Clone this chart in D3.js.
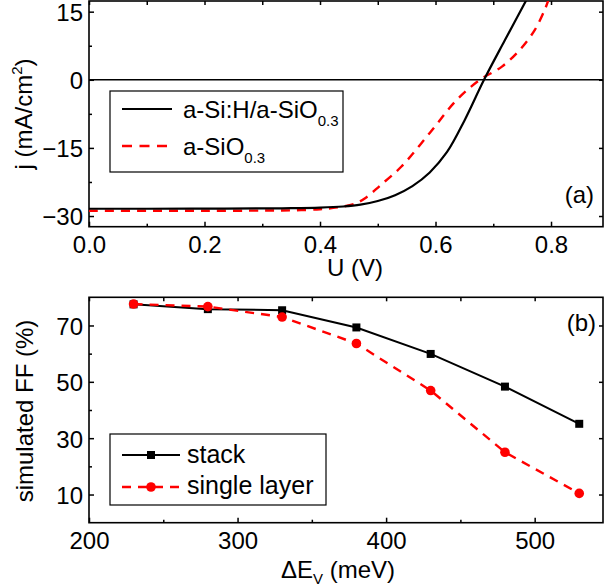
<!DOCTYPE html>
<html>
<head>
<meta charset="utf-8">
<script src="https://cdn.jsdelivr.net/npm/d3@7"></script>
<style>
  body { margin: 0; background: #fff; }
  svg { display: block; font-family: "Liberation Sans", Arial, sans-serif; }
  .tick text { font-size: 24px; fill: #000; }
  .domain { display: none; }
  .tick line { stroke: #000; stroke-width: 1.5; }
</style>
</head>
<body>
<div id="chart"></div>
<script>
// panel (a): j-U curves
var U_stack = [0, 0.1, 0.2, 0.3, 0.35, 0.4, 0.44, 0.47, 0.5, 0.53, 0.56, 0.59, 0.62, 0.65, 0.684, 0.72, 0.76];
var j_stack = [-28.4, -28.4, -28.37, -28.33, -28.28, -28.15, -27.9, -27.5, -26.7, -25.4, -23.4, -20.4, -15.9, -9.0, 0, 8.7, 18.2];
var U_single = [0, 0.1, 0.2, 0.3, 0.35, 0.4, 0.43, 0.46, 0.48, 0.504, 0.541, 0.59, 0.637, 0.677, 0.715, 0.746, 0.772, 0.789, 0.795];
var j_single = [-28.85, -28.85, -28.85, -28.8, -28.75, -28.5, -28.1, -27.3, -25.9, -23.3, -19.1, -11.7, -4.4, 0, 2.9, 6.6, 11.0, 15.4, 17.4];

// panel (b): simulated FF vs valence band offset
var dEv = [230, 280, 330, 380, 430, 480, 530];
var ff_stack = [77.5, 75.8, 75.4, 69.3, 59.9, 48.3, 35.1];
var ff_single = [77.6, 76.7, 73.0, 63.6, 46.9, 25.0, 10.4];

var xTicksA = [0, 0.2, 0.4, 0.6, 0.8], xMinorA = [0.1, 0.3, 0.5, 0.7];
var yTicksA = [-30, -15, 0, 15], yMinorA = [-22.5, -7.5, 7.5];
var xTicksB = [200, 300, 400, 500], xMinorB = [250, 350, 450];
var yTicksB = [10, 30, 50, 70], yMinorB = [20, 40, 60];

var W = 605, H = 588;
var L = 89, R = 603;
var svg = d3.select('#chart').append('svg').attr('width', W).attr('height', H);

var xa = d3.scaleLinear().domain([0, 0.89]).range([L, R]);
var ya = d3.scaleLinear().domain([-32.35, 17.35]).range([226.7, 1]);
var xb = d3.scaleLinear().domain([200, 546]).range([L, R]);
var yb = d3.scaleLinear().domain([0, 80]).range([522.7, 297.3]);

function frame(x, y, fmtX, fmtY, xt, xm, yt, ym) {
  var g = svg.append('g');
  var y0 = y.range()[0], y1 = y.range()[1];
  g.append('g').attr('transform', 'translate(0,' + y0 + ')')
    .call(d3.axisBottom(x).tickValues(xt).tickSize(-5).tickPadding(9).tickFormat(fmtX));
  g.append('g').attr('transform', 'translate(0,' + y0 + ')')
    .call(d3.axisBottom(x).tickValues(xm).tickSize(-3).tickFormat(''));
  g.append('g').attr('transform', 'translate(0,' + y1 + ')')
    .call(d3.axisTop(x).tickValues(xt.concat(xm)).tickSize(-4).tickFormat(''));
  g.append('g').attr('transform', 'translate(' + L + ',0)')
    .call(d3.axisLeft(y).tickValues(yt).tickSize(-5).tickPadding(6).tickFormat(fmtY))
    .selectAll('text').attr('dy', '0.37em');
  g.append('g').attr('transform', 'translate(' + L + ',0)')
    .call(d3.axisLeft(y).tickValues(ym).tickSize(-3).tickFormat(''));
  g.append('g').attr('transform', 'translate(' + R + ',0)')
    .call(d3.axisRight(y).tickValues(yt).tickSize(-4).tickFormat(''));
  g.append('rect').attr('x', L).attr('y', y1).attr('width', R - L).attr('height', y0 - y1)
    .attr('fill', 'none').attr('stroke', '#000').attr('stroke-width', 1.6);
}

frame(xa, ya, d3.format('.1f'), d3.format('d'), xTicksA, xMinorA, yTicksA, yMinorA);
frame(xb, yb, d3.format('d'), d3.format('d'), xTicksB, xMinorB, yTicksB, yMinorB);

// zero line
svg.append('line').attr('x1', L).attr('x2', R).attr('y1', ya(0)).attr('y2', ya(0))
  .attr('stroke', '#000').attr('stroke-width', 1.5);

svg.append('clipPath').attr('id', 'clipA').append('rect')
  .attr('x', L).attr('y', 1).attr('width', R - L).attr('height', 225.7);

var lineA = d3.line().curve(d3.curveCatmullRom.alpha(0.5));
svg.append('path')
  .attr('d', lineA(U_single.map(function(u, i){ return [xa(u), ya(j_single[i])]; })))
  .attr('clip-path', 'url(#clipA)')
  .attr('fill', 'none').attr('stroke', '#ff0000').attr('stroke-width', 2.4).attr('stroke-dasharray', '9,7');
svg.append('path')
  .attr('d', lineA(U_stack.map(function(u, i){ return [xa(u), ya(j_stack[i])]; })))
  .attr('clip-path', 'url(#clipA)')
  .attr('fill', 'none').attr('stroke', '#000').attr('stroke-width', 2.2);

// panel (b) lines + markers
var lineB = d3.line();
svg.append('path')
  .attr('d', lineB(dEv.map(function(e, i){ return [xb(e), yb(ff_stack[i])]; })))
  .attr('fill', 'none').attr('stroke', '#000').attr('stroke-width', 2);
svg.selectAll('rect.sq').data(dEv).enter().append('rect').attr('class', 'sq')
  .attr('x', function(d){ return xb(d) - 4; })
  .attr('y', function(d, i){ return yb(ff_stack[i]) - 4; })
  .attr('width', 8).attr('height', 8).attr('fill', '#000');
svg.append('path')
  .attr('d', lineB(dEv.map(function(e, i){ return [xb(e), yb(ff_single[i])]; })))
  .attr('fill', 'none').attr('stroke', '#ff0000').attr('stroke-width', 2.4).attr('stroke-dasharray', '9,7');
svg.selectAll('circle.ci').data(dEv).enter().append('circle').attr('class', 'ci')
  .attr('cx', function(d){ return xb(d); })
  .attr('cy', function(d, i){ return yb(ff_single[i]); })
  .attr('r', 4.8).attr('fill', '#ff0000');

// axis titles
function txt(x, y, anchor, size) {
  return svg.append('text').attr('x', x).attr('y', y).attr('text-anchor', anchor || 'start')
    .attr('font-size', size || 24).attr('fill', '#000');
}
var t = txt(355, 276, 'middle'); t.text('U (V)');
t = txt(0, 0, 'middle').attr('transform', 'translate(32,114) rotate(-90)');
t.append('tspan').text('j (mA/cm');
t.append('tspan').attr('font-size', 15).attr('dy', -10).text('2');
t.append('tspan').attr('dy', 10).text(')');
t = txt(0, 0, 'middle').attr('transform', 'translate(33,411) rotate(-90)');
t.text('simulated FF (%)');
t = txt(338, 578, 'middle');
t.append('tspan').text('\u0394E');
t.append('tspan').attr('font-size', 15).attr('dy', 6).text('V');
t.append('tspan').attr('dy', -6).text(' (meV)');

txt(594, 203, 'end').text('(a)');
txt(596, 331, 'end').text('(b)');

// legend (a)
svg.append('rect').attr('x', 110).attr('y', 91).attr('width', 233).attr('height', 81)
  .attr('fill', '#fff').attr('stroke', '#000').attr('stroke-width', 1.2);
svg.append('line').attr('x1', 122).attr('x2', 172).attr('y1', 109).attr('y2', 109)
  .attr('stroke', '#000').attr('stroke-width', 2.2);
svg.append('line').attr('x1', 122).attr('x2', 172).attr('y1', 146).attr('y2', 146)
  .attr('stroke', '#ff0000').attr('stroke-width', 2.4).attr('stroke-dasharray', '10,7.5');
t = txt(183, 118, 'start', 24);
t.append('tspan').text('a-Si:H/a-SiO');
t.append('tspan').attr('font-size', 15).attr('dy', 8).text('0.3');
t = txt(183, 155, 'start', 24);
t.append('tspan').text('a-SiO');
t.append('tspan').attr('font-size', 15).attr('dy', 8).text('0.3');

// legend (b)
svg.append('rect').attr('x', 110).attr('y', 434).attr('width', 216).attr('height', 71)
  .attr('fill', '#fff').attr('stroke', '#000').attr('stroke-width', 1.2);
svg.append('line').attr('x1', 122).attr('x2', 180).attr('y1', 455).attr('y2', 455)
  .attr('stroke', '#000').attr('stroke-width', 2);
svg.append('rect').attr('x', 147).attr('y', 451).attr('width', 8).attr('height', 8).attr('fill', '#000');
svg.append('line').attr('x1', 122).attr('x2', 180).attr('y1', 487).attr('y2', 487)
  .attr('stroke', '#ff0000').attr('stroke-width', 2.4).attr('stroke-dasharray', '9,7');
svg.append('circle').attr('cx', 151).attr('cy', 487).attr('r', 4.8).attr('fill', '#ff0000');
txt(187, 463, 'start', 25).text('stack');
txt(187, 494, 'start', 25).text('single layer');
</script>
</body>
</html>
